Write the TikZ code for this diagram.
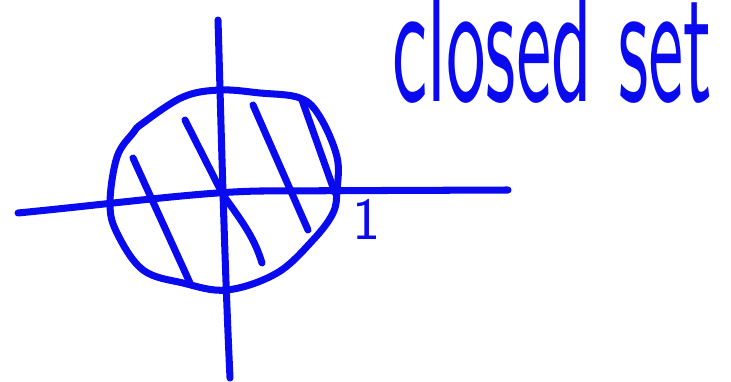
\documentclass[tikz,border=0pt]{standalone}
\usepackage{xcolor}
\usepackage{tikz}
\usetikzlibrary{positioning,calc}
\definecolor{pen}{RGB}{10,10,240}

\begin{document}
\begin{tikzpicture}[
  x=0.02cm, y=-0.02cm,
  ink/.style={draw=pen, line width=4pt, line cap=round, line join=round},
  hand/.style={text=pen, inner sep=0pt, font=\sffamily}]
  \useasboundingbox (0,0) rectangle (731,382);
  % axes
  \draw[ink] (18,213) .. controls (120,203) and (200,192) .. (260,191) -- (508,190);
  \draw[ink] (218,20) .. controls (221,120) and (224,250) .. (230,378);
  % the disc
  \draw[ink] plot[smooth cycle, tension=0.6] coordinates {
    (143,123) (183,97) (220,90) (260,93) (300,98) (320,117) (337,157)
    (337,190) (333,213) (313,240) (277,273) (227,290) (183,283)
    (143,270) (117,233) (110,203) (117,157) (133,133)};
  % hatching
  \draw[ink] (133,158) -- (190,283);
  \draw[ink] (185,120) -- (223,195) .. controls (245,225) and (255,240) .. (262,263);
  \draw[ink] (253,105) -- (308,230);
  \draw[ink] (302,100) -- (335,193);
  % labels
  \node[hand, anchor=center] (one) at (367,219) {\fontsize{34}{34}\selectfont 1};
  \node[hand, anchor=south west] (title) at (392,104)
    {\resizebox{6.4cm}{2.4cm}{closed set}};
\end{tikzpicture}
\end{document}
